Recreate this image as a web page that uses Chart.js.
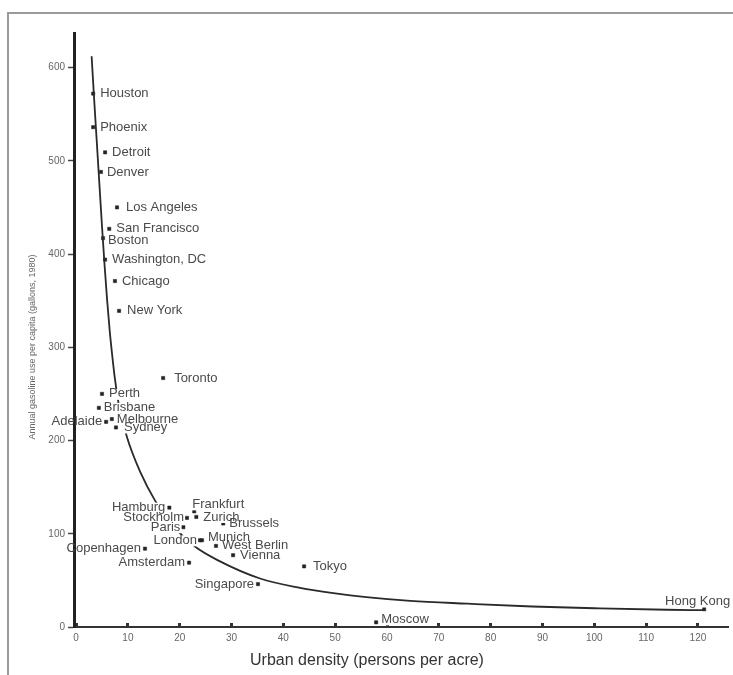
<!DOCTYPE html>
<html>
<head>
<meta charset="utf-8">
<style>
  html, body { margin: 0; padding: 0; background: #fff; }
  #wrap { width: 733px; height: 675px; }
</style>
</head>
<body>
<div id="wrap">
    <canvas id="myChart" width="733" height="675"></canvas>
</div>
<script src="https://cdn.jsdelivr.net/npm/chart.js"></script>
<script>
// data
const cities = ["Houston", "Phoenix", "Detroit", "Denver", "Los Angeles", "San Francisco", "Boston",
    "Washington, DC", "Chicago", "New York", "Toronto", "Perth", "Brisbane", "Melbourne", "Adelaide",
    "Sydney", "Hamburg", "Frankfurt", "Zurich", "Stockholm", "Brussels", "Paris", "London", "Munich",
    "West Berlin", "Vienna", "Tokyo", "Singapore", "Copenhagen", "Amsterdam", "Moscow", "Hong Kong"];
const density = [3.3, 3.3, 5.6, 4.8, 7.9, 6.4, 5.2, 5.6, 7.5, 8.3, 16.8, 5.0, 4.4, 6.9, 5.8,
    7.7, 18.0, 22.8, 23.2, 21.4, 28.4, 20.7, 23.9, 24.3, 27.0, 30.3, 44.0, 35.1, 13.3, 21.8, 57.9, 121.2];
const gasoline = [572, 536, 509, 488, 450, 427, 417, 394, 371, 339, 267, 250, 235, 223, 220,
    214, 128, 124, 118, 117, 111, 107, 93, 93, 87, 77, 65, 46, 84, 69, 5, 19];

// fitted curve
const curveDensity = [3.0, 3.5, 4.0, 4.5, 5.0, 5.5, 6.0, 6.5, 7.0, 7.5, 8.2, 9.8, 12.4, 15.3, 19.1,
    23, 27.2, 35.5, 43.2, 50, 56, 64.5, 75.5, 88, 101, 114, 121];
const curveGasoline = [612, 565, 520, 475, 430, 388, 350, 317, 290, 266, 240, 204, 166, 135, 106,
    86, 72, 52, 42, 36, 32, 28, 25, 22, 20, 18.5, 18];

const xTickValues = [0, 10, 20, 30, 40, 50, 60, 70, 80, 90, 100, 110, 120];
const yTickValues = [0, 100, 200, 300, 400, 500, 600];

const xTitle = "Urban density (persons per acre)";
const yTitle = "Annual gasoline use per capita (gallons, 1980)";

// where each city name sits next to its dot: [side, dx, dy]
const labelPlace = [
    ["r", 7, 0], ["r", 7, 0], ["r", 7, 0], ["r", 6, 0], ["r", 9, 0], ["r", 7, 0], ["r", 5, 2],
    ["r", 7, 0], ["r", 7, 0], ["r", 8, 0], ["r", 11, 0], ["r", 7, 0], ["r", 5, 0], ["r", 5, 0],
    ["l", -4, 0], ["r", 8, 0], ["l", -4, 0], ["r", -2, -7], ["r", 7, 0], ["l", -3, 0], ["r", 6, 0],
    ["l", -3, 0], ["l", -3, 0], ["r", 6, -3], ["r", 6, 0], ["r", 7, 0], ["r", 9, 0], ["l", -4, 0],
    ["l", -4, 0], ["l", -4, 0], ["r", 5, -3], ["l", 26, -8]
];

var points = [], curve = [];
for (var i = 0; i < cities.length; i++) points.push({x: density[i], y: gasoline[i]});
for (var j = 0; j < curveDensity.length; j++) curve.push({x: curveDensity[j], y: curveGasoline[j]});

const frame = {
    id: 'frame',
    beforeDraw(chart) {
        const c = chart.ctx;
        c.save();
        c.fillStyle = '#fff';
        c.fillRect(0, 0, chart.width, chart.height);
        c.strokeStyle = '#9a9a9a';
        c.lineWidth = 2;
        c.beginPath();
        c.moveTo(8, 675); c.lineTo(8, 13); c.lineTo(733, 13);
        c.stroke();
        c.restore();
    },
    afterDraw(chart) {
        const c = chart.ctx;
        c.save();
        c.fillStyle = '#333';
        c.font = '16px "Liberation Sans", Arial, sans-serif';
        c.textAlign = 'center';
        c.textBaseline = 'middle';
        c.fillText(xTitle, 367, 661);
        c.translate(33, 347);
        c.rotate(-Math.PI / 2);
        c.fillStyle = '#666';
        c.font = '9px "Liberation Sans", Arial, sans-serif';
        c.fillText(yTitle, 0, 0);
        c.restore();
    }
};

const cityLabels = {
    id: 'cityLabels',
    afterDatasetsDraw(chart) {
        const c = chart.ctx, xs = chart.scales.x, ys = chart.scales.y;
        c.save();
        c.font = '13px "Liberation Sans", Arial, sans-serif';
        c.textBaseline = 'middle';
        var boxes = [];
        for (var i = 0; i < cities.length; i++) {
            const p = labelPlace[i];
            const w = c.measureText(cities[i]).width;
            const px = xs.getPixelForValue(density[i]) + p[1];
            const py = ys.getPixelForValue(gasoline[i]) + p[2];
            const left = p[0] === 'r' ? px : px - w;
            boxes.push([left, py, w]);
        }
        // blank the curve behind each name, but keep the axis line
        c.fillStyle = '#fff';
        boxes.forEach(function (b) {
            var l = Math.max(b[0] - 1, xs.left + 2);
            c.fillRect(l, b[1] - 5, b[0] + b[2] + 1 - l, 11);
        });
        c.fillStyle = '#4a4a4a';
        c.textAlign = 'left';
        boxes.forEach(function (b, k) { c.fillText(cities[k], b[0], b[1]); });
        c.restore();
    }
};

new Chart(document.getElementById('myChart'), {
    type: 'scatter',
    data: {
        datasets: [{
            label: 'fit',
            data: curve,
            showLine: true,
            pointRadius: 0,
            borderColor: '#2a2a2a',
            borderWidth: 1.8,
            cubicInterpolationMode: 'monotone'
        }, {
            label: 'cities',
            data: points,
            pointStyle: 'rect',
            pointRadius: 2.3,
            backgroundColor: '#222',
            borderColor: '#222',
            borderWidth: 0.5
        }]
    },
    options: {
        responsive: false,
        animation: false,
        devicePixelRatio: 1,
        layout: { padding: { top: 33, right: 5, left: 0, bottom: 0 } },
        plugins: { legend: { display: false }, tooltip: { enabled: false } },
        scales: {
            x: {
                type: 'linear',
                min: -0.4,
                max: 125.8,
                afterBuildTicks: function (s) { s.ticks = xTickValues.map(function (v) { return {value: v}; }); },
                afterFit: function (s) { s.height = 48; },
                border: { color: '#333', width: 2 },
                grid: { drawOnChartArea: false, tickLength: -4, tickColor: '#333', tickWidth: 3 },
                ticks: { color: '#666', font: { size: 10, family: '"Liberation Sans", Arial' }, padding: 9, maxRotation: 0 }
            },
            y: {
                min: 0,
                max: 637,
                afterBuildTicks: function (s) { s.ticks = yTickValues.map(function (v) { return {value: v}; }); },
                afterFit: function (s) { s.width = 74; },
                border: { color: '#222', width: 3 },
                grid: { drawOnChartArea: false, tickLength: 6, tickColor: '#444', tickWidth: 1.5 },
                ticks: { color: '#666', font: { size: 10, family: '"Liberation Sans", Arial' }, padding: 3 }
            }
        }
    },
    plugins: [frame, cityLabels]
});
</script>
</body>
</html>
